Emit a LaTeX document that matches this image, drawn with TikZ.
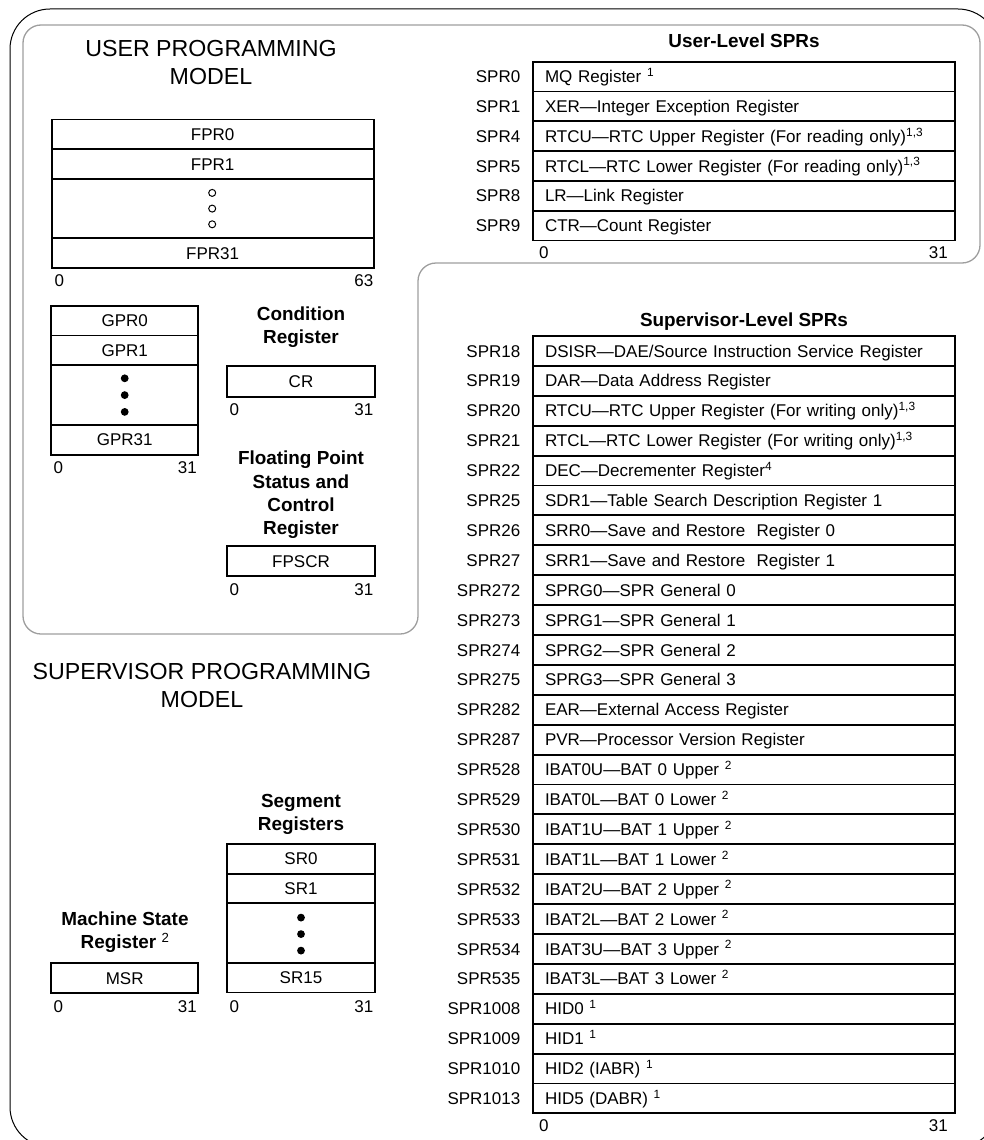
\documentclass[tikz,border=0pt]{standalone}
\usepackage{fontspec}
\setmainfont{Liberation Sans}
\newcommand\regfont{\fontsize{17}{20}\selectfont}
\newcommand\headfont{\fontsize{18.9}{23.3}\selectfont\bfseries}
\newcommand\bigtitlefont{\fontsize{23.2}{28}\selectfont}
\begin{document}
\begin{tikzpicture}[x=1pt,y=-1pt,
  outerline/.style={draw=black, line width=1pt, rounded corners=40pt},
  innerline/.style={draw=black!38, line width=1.3pt, rounded corners=18pt},
  reg/.style={draw, line width=1.9pt, inner sep=0pt, text height=12.2pt, text depth=0pt, font=\regfont},
  lreg/.style={reg, minimum width=147.3pt},
  sprrow/.style={draw, line width=1.9pt, minimum width=422pt, minimum height=29.9pt,
     text width=398pt, inner xsep=12pt, inner ysep=0pt, align=left, text height=12.2pt, text depth=0pt, font=\regfont},
  sprlab/.style={anchor=east, inner sep=0pt, text height=12.2pt, text depth=0pt, font=\regfont},
  bitlab/.style={inner sep=0pt, text height=12.2pt, text depth=0pt, font=\regfont},
  heading/.style={anchor=north, inner sep=0pt, align=center, font=\headfont},
  bigtitle/.style={anchor=north, inner sep=0pt, align=center, font=\bigtitlefont},
  hollowdot/.style={circle, draw, line width=1pt, minimum size=7pt, inner sep=0pt},
  soliddot/.style={circle, fill, minimum size=7.8pt, inner sep=0pt}]
\useasboundingbox (0,0) rectangle (984,1140);
\clip (0,0) rectangle (984,1140);

% frames
\draw[outerline] (10,9) rectangle (998,1147);
\draw[innerline] (23,25) -- (980,25) -- (980,263) -- (418,263) -- (418,634) -- (23,634) -- cycle;

% titles
\node[bigtitle] (usertitle) at (211,39.7) {USER PROGRAMMING\\MODEL};
\node[bigtitle] (suptitle) at (202,663.5) {SUPERVISOR PROGRAMMING\\MODEL};

% FPRs
\node[reg, minimum width=322pt, minimum height=29.7pt] (fpr0) at (212.7,134.35) {FPR0};
\node[reg, minimum width=322pt, minimum height=29.7pt] (fpr1) at (212.7,164.05) {FPR1};
\node[reg, minimum width=322pt, minimum height=59.4pt] (fprd) at (212.7,208.6) {};
\node[reg, minimum width=322pt, minimum height=29.7pt] (fpr31) at (212.7,253.15) {FPR31};
\node[hollowdot] (fc1) at (212.2,192.9) {};
\node[hollowdot] (fc2) at (212.2,208.6) {};
\node[hollowdot] (fc3) at (212.2,224.3) {};
\node[bitlab, anchor=west] (fpra) at (54.5,280.5) {0};
\node[bitlab, anchor=east] (fprb) at (373.5,280.5) {63};

% GPRs
\node[lreg, minimum height=29.8pt] (gpr0) at (124.7,320.6) {GPR0};
\node[lreg, minimum height=29.8pt] (gpr1) at (124.7,350.4) {GPR1};
\node[lreg, minimum height=59.6pt] (gprd) at (124.7,395.1) {};
\node[lreg, minimum height=29.8pt] (gpr31) at (124.7,439.8) {GPR31};
\node[soliddot] (gd1) at (124.7,378.3) {};
\node[soliddot] (gd2) at (124.7,395.1) {};
\node[soliddot] (gd3) at (124.7,411.9) {};
\node[bitlab, anchor=west] (gpra) at (53.5,467.5) {0};
\node[bitlab, anchor=east] (gprb) at (197,467.5) {31};

% CR
\node[heading] (crhead) at (301,306.5) {Condition\\Register};
\node[lreg, minimum height=30.5pt] (cr) at (301,381.3) {CR};
\node[bitlab, anchor=west] (cra) at (229.5,409.3) {0};
\node[bitlab, anchor=east] (crb) at (373.5,409.3) {31};

% FPSCR
\node[heading] (fphead) at (301,450.9) {Floating Point\\Status and\\Control\\Register};
\node[lreg, minimum height=30pt] (fpscr) at (301,561) {FPSCR};
\node[bitlab, anchor=west] (fpa) at (229.5,589.3) {0};
\node[bitlab, anchor=east] (fpb) at (373.5,589.3) {31};

% Segment registers
\node[heading] (srhead) at (301,793.9) {Segment\\Registers};
\node[lreg, minimum height=29.7pt] (sr0) at (301,858.85) {SR0};
\node[lreg, minimum height=29.7pt] (sr1) at (301,888.55) {SR1};
\node[lreg, minimum height=59.4pt] (srd) at (301,933.1) {};
\node[lreg, minimum height=29.7pt] (sr15) at (301,977.65) {SR15};
\node[soliddot] (sd1) at (301,917.6) {};
\node[soliddot] (sd2) at (301,934.1) {};
\node[soliddot] (sd3) at (301,950.6) {};
\node[bitlab, anchor=west] (sra) at (229.5,1006.5) {0};
\node[bitlab, anchor=east] (srb) at (373.5,1006.5) {31};

% MSR
\node[heading] (msrhead) at (125,911.5) {Machine State\\Register \textsuperscript{\mdseries 2}};
\node[lreg, minimum height=29.7pt] (msr) at (124.7,978.1) {MSR};
\node[bitlab, anchor=west] (msra) at (53.5,1006.5) {0};
\node[bitlab, anchor=east] (msrb) at (197,1006.5) {31};

% User-level SPRs
\node[heading] (uhead) at (744,33.9) {User-Level SPRs};
\foreach \lab/\txt [count=\i from 0] in {
  SPR0/{MQ Register \textsuperscript{1}},
  SPR1/{XER—Integer Exception Register},
  SPR4/{RTCU—RTC Upper Register (For reading only)\textsuperscript{1,3}},
  SPR5/{RTCL—RTC Lower Register (For reading only)\textsuperscript{1,3}},
  SPR8/{LR—Link Register},
  SPR9/{CTR—Count Register}} {
  \node[sprrow, minimum height=29.8pt] (u\i) at (744,76.6+29.8*\i) {\txt};
  \node[sprlab] (ul\i) at (520.5,76.6+29.8*\i) {\lab};
}
\node[bitlab, anchor=west] (ua) at (539,252.5) {0};
\node[bitlab, anchor=east] (ub) at (948,252.5) {31};

% Supervisor-level SPRs
\node[heading] (shead) at (744,312.5) {Supervisor-Level SPRs};
\foreach \lab/\txt [count=\i from 0] in {
  SPR18/{DSISR—DAE/Source Instruction Service Register},
  SPR19/{DAR—Data Address Register},
  SPR20/{RTCU—RTC Upper Register (For writing only)\textsuperscript{1,3}},
  SPR21/{RTCL—RTC Lower Register (For writing only)\textsuperscript{1,3}},
  SPR22/{DEC—Decrementer Register\textsuperscript{4}},
  SPR25/{SDR1—Table Search Description Register 1},
  SPR26/{SRR0—Save and Restore\ \ Register 0},
  SPR27/{SRR1—Save and Restore\ \ Register 1},
  SPR272/{SPRG0—SPR General 0},
  SPR273/{SPRG1—SPR General 1},
  SPR274/{SPRG2—SPR General 2},
  SPR275/{SPRG3—SPR General 3},
  SPR282/{EAR—External Access Register},
  SPR287/{PVR—Processor Version Register},
  SPR528/{IBAT0U—BAT 0 Upper \textsuperscript{2}},
  SPR529/{IBAT0L—BAT 0 Lower \textsuperscript{2}},
  SPR530/{IBAT1U—BAT 1 Upper \textsuperscript{2}},
  SPR531/{IBAT1L—BAT 1 Lower \textsuperscript{2}},
  SPR532/{IBAT2U—BAT 2 Upper \textsuperscript{2}},
  SPR533/{IBAT2L—BAT 2 Lower \textsuperscript{2}},
  SPR534/{IBAT3U—BAT 3 Upper \textsuperscript{2}},
  SPR535/{IBAT3L—BAT 3 Lower \textsuperscript{2}},
  SPR1008/{HID0 \textsuperscript{1}},
  SPR1009/{HID1 \textsuperscript{1}},
  SPR1010/{HID2 (IABR) \textsuperscript{1}},
  SPR1013/{HID5 (DABR) \textsuperscript{1}}} {
  \node[sprrow] (s\i) at (744,350.95+29.9*\i) {\txt};
  \node[sprlab] (sl\i) at (520.5,350.95+29.9*\i) {\lab};
}
\node[bitlab, anchor=west] (sa) at (539,1125.5) {0};
\node[bitlab, anchor=east] (sb) at (948,1125.5) {31};
\end{tikzpicture}
\end{document}
